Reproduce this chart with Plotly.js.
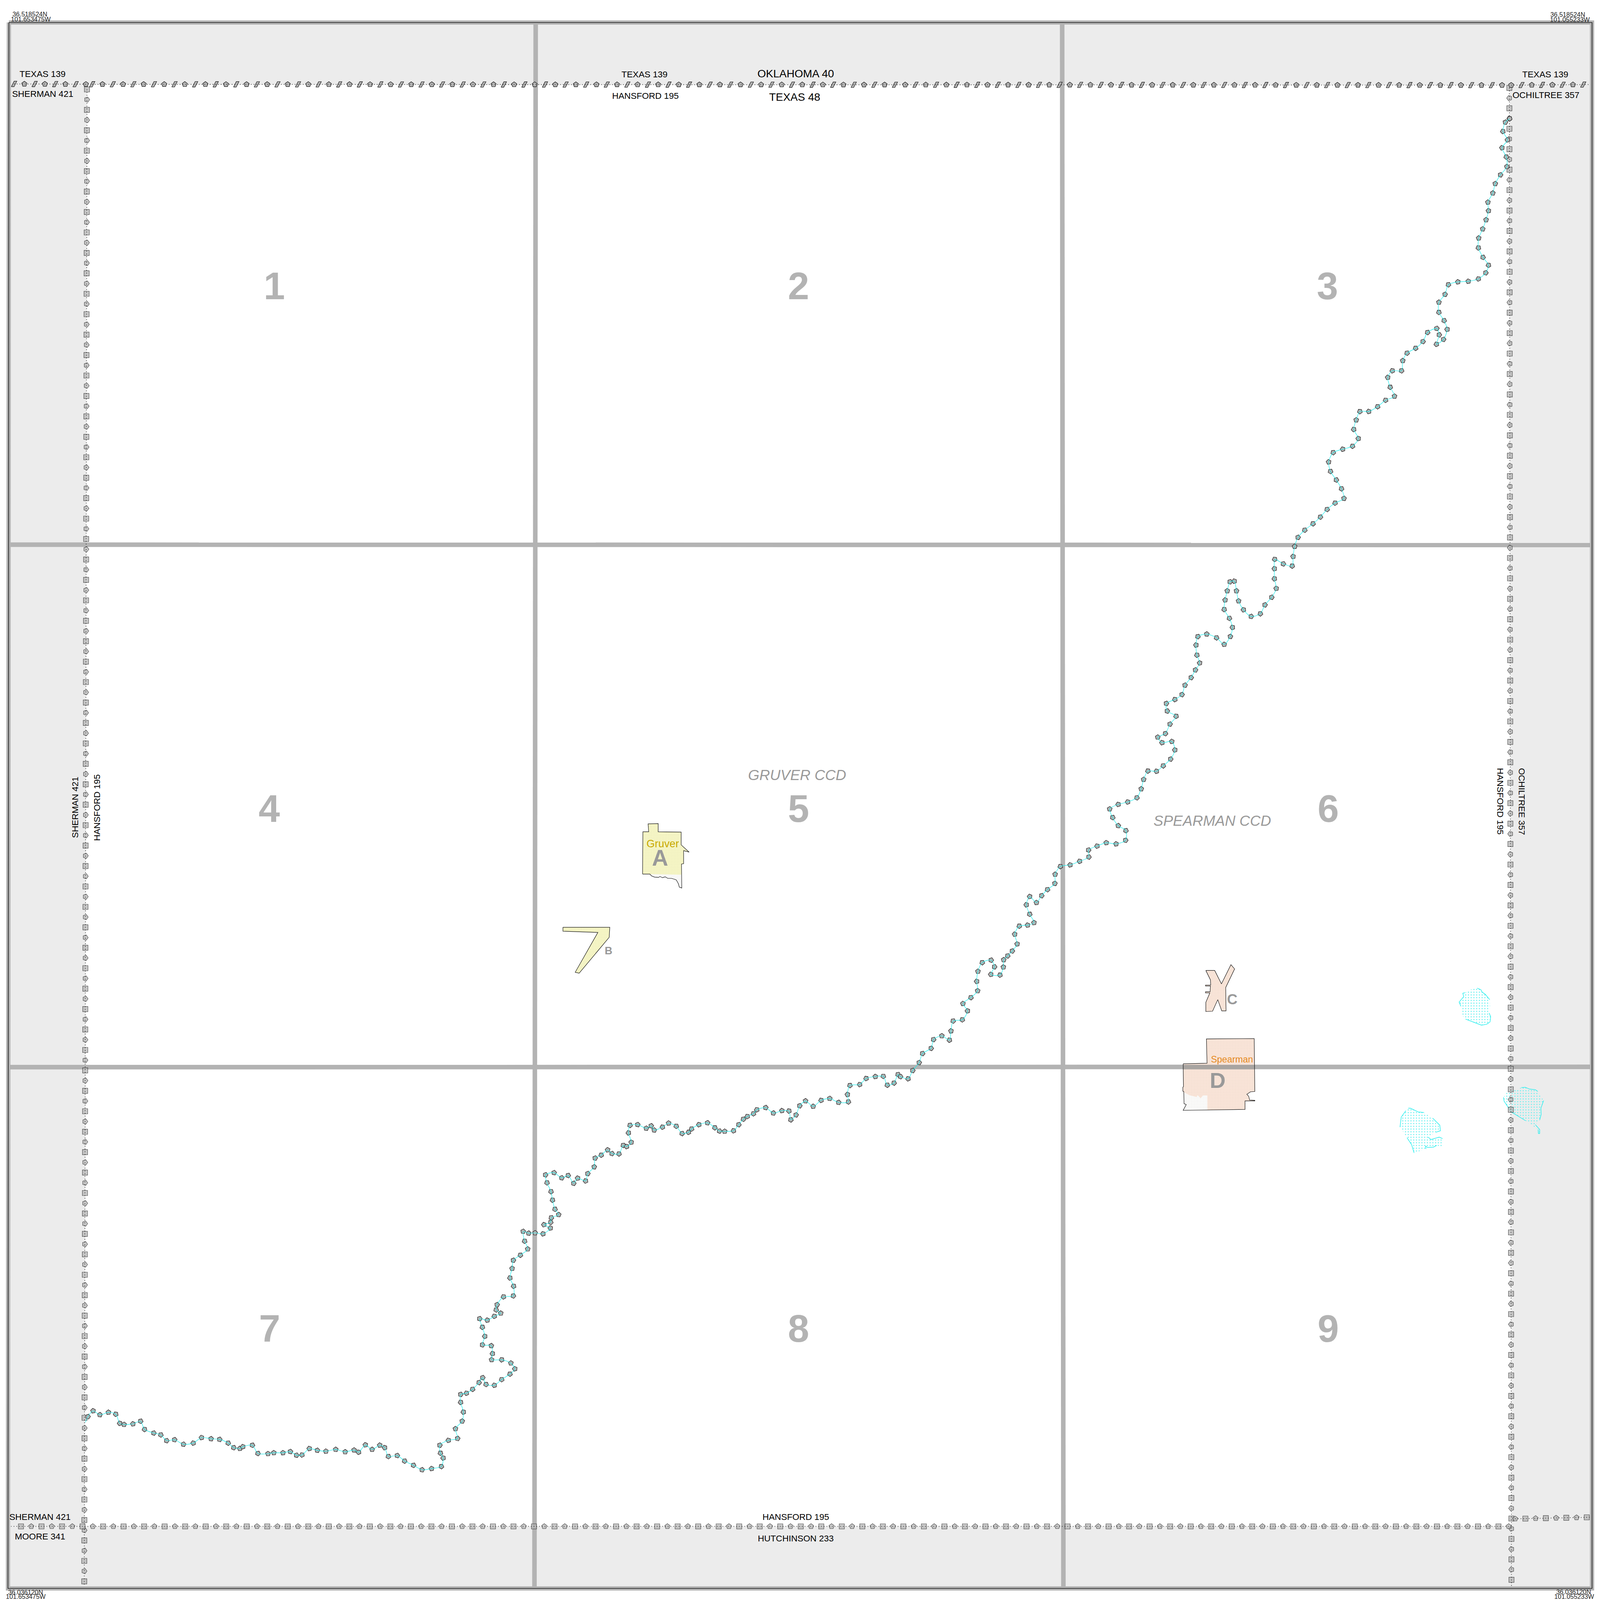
<!DOCTYPE html>
<html><head><meta charset="utf-8">
<script src="https://cdn.plot.ly/plotly-3.0.1.min.js"></script>
<style>html,body{margin:0;padding:0;background:#fff;overflow:hidden}</style></head>
<body><div id="chart"></div>
<script>
// Map units on both axes. River symbol centres.
const riverPoints = [[279,4677],[287,4658],[304,4639],[326,4652],[354,4644],[378,4650],[391,4680],[405,4684],[434,4682],[459,4673],[472,4700],[502,4712],[525,4718],[544,4737],[570,4734],[599,4749],[631,4745],[658,4727],[689,4731],[717,4733],[745,4745],[763,4760],[783,4763],[793,4757],[824,4752],[842,4779],[875,4780],[894,4777],[924,4777],[948,4773],[968,4785],[986,4784],[1010,4763],[1036,4769],[1064,4772],[1096,4766],[1127,4774],[1156,4768],[1171,4775],[1193,4751],[1215,4766],[1240,4752],[1256,4760],[1268,4789],[1297,4786],[1321,4804],[1350,4818],[1378,4833],[1409,4829],[1441,4822],[1447,4794],[1438,4778],[1436,4752],[1464,4736],[1494,4730],[1487,4698],[1509,4673],[1513,4643],[1504,4611],[1504,4585],[1523,4581],[1543,4568],[1564,4546],[1576,4530],[1587,4552],[1614,4555],[1638,4536],[1665,4518],[1681,4501],[1668,4482],[1638,4471],[1605,4471],[1608,4451],[1604,4425],[1575,4422],[1583,4394],[1575,4364],[1566,4336],[1591,4341],[1614,4328],[1635,4318],[1620,4307],[1623,4290],[1644,4264],[1676,4261],[1677,4229],[1665,4202],[1672,4171],[1676,4144],[1699,4127],[1723,4107],
[1713,4081],[1708,4049],[1726,4055],[1747,4054],[1773,4057],[1797,4038],[1776,4027],[1798,4019],[1800,4004],[1824,3994],[1812,3976],[1804,3946],[1799,3918],[1786,3889],[1781,3863],[1809,3856],[1834,3873],[1855,3865],[1873,3891],[1886,3874],[1912,3883],[1919,3859],[1940,3837],[1943,3808],[1963,3798],[1984,3781],[1998,3793],[2021,3794],[2035,3766],[2046,3770],[2061,3756],[2052,3725],[2057,3700],[2082,3698],[2110,3710],[2126,3702],[2136,3716],[2163,3706],[2183,3693],[2208,3703],[2227,3727],[2248,3723],[2258,3712],[2282,3698],[2310,3692],[2334,3708],[2349,3719],[2366,3720],[2395,3718],[2412,3698],[2427,3680],[2440,3671],[2460,3662],[2471,3649],[2500,3642],[2525,3660],[2553,3652],[2576,3653],[2582,3682],[2599,3666],[2611,3636],[2630,3620],[2655,3638],[2681,3618],[2709,3612],[2738,3625],[2770,3623],[2767,3599],[2775,3569],[2807,3566],[2828,3546],[2858,3540],[2884,3539],[2897,3568],[2919,3561],[2932,3533],[2940,3540],[2965,3547],
[2980,3520],[3001,3494],[3012,3464],[3040,3447],[3048,3418],[3075,3406],[3100,3420],[3105,3390],[3112,3357],[3142,3353],[3159,3324],[3144,3300],[3170,3280],[3192,3258],[3189,3227],[3193,3194],[3207,3165],[3236,3157],[3247,3179],[3235,3204],[3265,3206],[3276,3180],[3277,3156],[3290,3143],[3305,3127],[3321,3104],[3313,3072],[3328,3045],[3355,3042],[3376,3034],[3362,3006],[3351,2975],[3362,2948],[3384,2968],[3401,2945],[3420,2925],[3444,2905],[3445,2875],[3462,2849],[3494,2844],[3525,2832],[3555,2818],[3554,2795],[3582,2782],[3612,2771],[3644,2775],[3675,2763],[3676,2731],[3651,2715],[3633,2688],[3623,2660],[3651,2645],[3682,2637],[3712,2623],[3726,2594],[3734,2563],[3748,2535],[3776,2536],[3798,2518],[3822,2496],[3836,2466],[3826,2438],[3794,2442],[3780,2424],[3805,2412],[3820,2381],[3840,2355],[3811,2338],[3808,2313],[3836,2300],
[3859,2284],[3869,2253],[3889,2228],[3903,2203],[3917,2180],[3908,2154],[3905,2121],[3911,2093],[3940,2085],[3972,2097],[3997,2119],[4017,2093],[4024,2063],[4014,2033],[3997,2004],[4000,1973],[4007,1943],[4016,1913],[4030,1911],[4037,1943],[4044,1976],[4060,2005],[4085,2027],[4115,2018],[4130,1989],[4152,1964],[4167,1935],[4161,1903],[4161,1870],[4162,1839],[4190,1854],[4219,1861],[4222,1830],[4227,1797],[4238,1767],[4260,1743],[4287,1722],[4311,1700],[4333,1675],[4359,1654],[4388,1639],[4380,1607],[4363,1578],[4344,1550],[4338,1519],[4353,1488],[4384,1477],[4416,1467],[4435,1442],[4420,1412],[4428,1381],[4440,1353],[4469,1353],[4498,1337],[4524,1316],[4553,1303],
[4539,1273],[4531,1241],[4546,1219],[4576,1219],[4580,1186],[4594,1161],[4622,1145],[4646,1123],[4661,1093],[4691,1080],[4699,1101],[4690,1132],[4713,1116],[4725,1083],[4715,1054],[4698,1027],[4698,994],[4718,968],[4729,936],[4760,927],[4794,925],[4827,917],[4851,897],[4860,872],[4842,846],[4827,815],[4828,783],[4841,753],[4852,723],[4860,693],[4858,665],[4874,635],[4882,604],[4899,575],[4920,548],[4918,516],[4904,486],[4922,460],[4907,432],[4915,402],[4929,390]];

// Frame, county outline and grid lines
const framePath = [[29,74],[5198,74],[5198,5223],[26,5223],[29,74]];
const countyPath = [[284,279],[4928,280],[4935,5019],[277,5019]];
const gridLines = [[[1749,74],[1745,5223]],[[3468,74],[3472,5223]],[[27,1791],[5198,1792]],[[27,3509],[5198,3508]]];

// Boundary lines: vertices
const stateLineA = [[46,276],[281,277]];
const stateLineB = [[301,277],[4904,280]];
const stateLineC = [[4934,280],[5190,278]];
const leftLine = [[284,294],[275,5217]];
const rightLine = [[4928,289],[4935,5217]];
const bottomLine = [[4926,5019],[36,5019]];
const bottomRightLine = [[4947,4994],[5190,4989]];

// Places
const gruverOutline = [[2098,2874],[2099,2735],[2118,2735],[2116,2709],[2149,2708],[2149,2735],[2224,2736],[2224,2778],[2250,2802],[2232,2797],[2232,2840],[2225,2841],[2226,2920],[2218,2917],[2215,2906],[2208,2893],[2198,2890],[2192,2888],[2180,2888],[2172,2883],[2163,2886],[2155,2882],[2150,2885],[2137,2884],[2127,2880],[2122,2874],[2098,2874]];
const gruverLand = [[2098,2874],[2099,2735],[2118,2735],[2116,2709],[2149,2708],[2149,2735],[2224,2736],[2224,2778],[2250,2802],[2232,2797],[2232,2840],[2225,2841],[2225,2876],[2122,2874],[2098,2874]];
const placeB = [[1838,3049],[1991,3049],[1989,3082],[1891,3200],[1878,3197],[1952,3066],[1838,3062],[1838,3049]];
const placeC = [[3937,3191],[3966,3191],[3988,3235],[4019,3172],[4031,3186],[4002,3247],[4003,3324],[3989,3324],[3976,3287],[3959,3325],[3937,3326],[3937,3296],[3950,3265],[3936,3265],[3936,3261],[3951,3261],[3952,3242],[3936,3242],[3936,3239],[3953,3239],[3952,3222],[3937,3191]];
const spearmanOutline = [[3863,3498],[3941,3496],[3939,3416],[4095,3415],[4097,3589],[4083,3590],[4071,3598],[4077,3605],[4080,3617],[4097,3618],[4097,3620],[4065,3620],[4065,3648],[3863,3651],[3873,3632],[3866,3629],[3865,3589],[3862,3588],[3862,3575],[3864,3573],[3863,3498]];
const spearmanGap = [[3866,3592],[3883,3601],[3907,3607],[3910,3601],[3920,3611],[3928,3602],[3942,3602],[3942,3650],[3863,3651],[3873,3632],[3866,3629],[3866,3592]];
const spearmanBand = [[3863,3508.5],[4096,3508.5]];

// Water bodies: hatched area, then the broken outline (null = gap)
const waterAreas = [
 [[4823,3249],[4835,3254],[4839,3262],[4850,3270],[4864,3287],[4865,3309],[4862,3331],[4867,3343],[4865,3360],[4854,3368],[4837,3371],[4820,3365],[4785,3351],[4776,3341],[4770,3309],[4764,3295],[4779,3277],[4776,3266],[4783,3264],[4802,3254]],
 [[4598,3644],[4605,3644],[4630,3656],[4649,3658],[4678,3677],[4701,3700],[4703,3718],[4688,3723],[4663,3739],[4672,3747],[4699,3739],[4710,3744],[4712,3774],[4691,3766],[4680,3772],[4661,3773],[4654,3768],[4656,3778],[4617,3791],[4609,3764],[4594,3741],[4571,3706],[4575,3673],[4590,3652]],
 [[4967,3576],[4980,3575],[4994,3581],[5013,3583],[5021,3589],[5040,3619],[5031,3644],[5032,3664],[5027,3683],[5013,3698],[5027,3714],[5027,3727],[5023,3727],[5022,3714],[4981,3685],[4934,3656],[4911,3621],[4909,3608],[4921,3590]]
];
const waterEdges = [
 [[4783,3264],[4776,3266],[4779,3277],[4764,3295],[4770,3309],null,[4785,3351],[4820,3365],[4837,3371],[4854,3368],[4865,3360],[4867,3343],[4862,3331],null,[4823,3249],[4835,3254],[4839,3262],[4850,3270],[4864,3287]],
 [[4598,3644],[4605,3644],[4630,3656],[4649,3658],null,[4678,3677],[4701,3700],[4703,3718],[4688,3723],null,[4663,3739],[4672,3747],[4699,3739],[4710,3744],null,[4691,3766],[4680,3772],[4661,3773],[4654,3768],[4656,3778],null,[4617,3791],[4609,3764],[4594,3741],null,[4571,3706],[4575,3673],[4590,3652]],
 [[4967,3576],[4980,3575],[4994,3581],[5013,3583],[5021,3589],null,[5040,3619],[5031,3644],[5032,3664],[5027,3683],null,[5013,3698],[5027,3714],[5027,3727],[5023,3727],[5022,3714],null,[4981,3685],[4934,3656],[4911,3621],[4909,3608]]
];

// Text
const gridNumbers = ['1','2','3','4','5','6','7','8','9'];
const gridNumberPos = [[896,940],[2608,940],[4334,940],[880,2659],[2608,2659],[4337,2659],[881,4368],[2608,4368],[4337,4368]];
const labels = [
 ['36.518524N',97,46,21,0,'#222'],['101.653475W',101,63,21,0,'#222'],
 ['36.518524N',5119,47,21,0,'#222'],['101.055233W',5126,64,21,0,'#222'],
 ['36.036120N',84,5235,21,0,'#222'],['101.653475W',84,5250,21,0,'#222'],
 ['36.036120N',5138,5234,21,0,'#222'],['101.055233W',5140,5250,21,0,'#222'],
 ['TEXAS 139',139,244,29,0,'#000'],['SHERMAN 421',140,309,29,0,'#000'],
 ['TEXAS 139',2105,245,29,0,'#000'],['HANSFORD 195',2108,315,29,0,'#000'],
 ['OKLAHOMA 40',2598,242,36,0,'#000'],['TEXAS 48',2595,319,36,0,'#000'],
 ['TEXAS 139',5046,245,29,0,'#000'],['OCHILTREE 357',5047,313,29,0,'#000'],
 ['SHERMAN 421',245,2655,29,-90,'#000'],['HANSFORD 195',316,2655,29,-90,'#000'],
 ['OCHILTREE 357',4968,2635,29,90,'#000'],['HANSFORD 195',4898,2635,29,90,'#000'],
 ['SHERMAN 421',131,4988,29,0,'#000'],['MOORE 341',131,5052,29,0,'#000'],
 ['HANSFORD 195',2598,4988,29,0,'#000'],['HUTCHINSON 233',2598,5059,29,0,'#000'],
 ['Gruver',2164,2774,35,0,'#c9aa00'],['Spearman',4022,3483,30,0,'#e58a1f'],
 ['<i>GRUVER CCD</i>',2602,2548,48,0,'#999'],['<i>SPEARMAN CCD</i>',3958,2699,48,0,'#999'],
 ['<b>A</b>',2155,2820,74,0,'#999'],['<b>B</b>',1987,3125,35,0,'#999'],
 ['<b>C</b>',4023,3286,48,0,'#999'],['<b>D</b>',3975,3552,72,0,'#999']
];

// ---- helpers -----------------------------------------------------------
// The window may be smaller than the 5224x5261 map, so the plot fills the
// window and every pixel-based style follows the same scale.
const W = Math.min(window.innerWidth, 5224), H = Math.min(window.innerHeight, 5261);
const k = Math.min(W / 5224, H / 5261);
const xs = p => p.map(q => q ? q[0] : null);
const ys = p => p.map(q => q ? q[1] : null);

// The boundary symbols are a repeating line style (like a dash pattern):
// they are stepped along the two-vertex lines above, not data values.
function stepsAlong(line, step) {
  const [a, b] = line, len = Math.hypot(b[0]-a[0], b[1]-a[1]), out = [];
  for (let d = 0; d <= len + 0.5; d += step) out.push([a[0]+(b[0]-a[0])*d/len, a[1]+(b[1]-a[1])*d/len]);
  return out;
}
const GREY = '#b3b3b3', INK = '#111', FONT = '"Liberation Sans", Arial, sans-serif';
const traces = [];
const poly = (p, fill, extra) => traces.push(Object.assign({type:'scatter', mode:'lines', x:xs(p), y:ys(p), fill:'toself', fillcolor:fill, line:{width:0}, hoverinfo:'skip'}, extra||{}));
const path = (p, color, width, extra) => traces.push({type:'scatter', mode:'lines', x:xs(p), y:ys(p), line:Object.assign({color, width:width*k}, extra||{}), hoverinfo:'skip'});
const hatch = (bg) => ({shape:'.', size:5*k, solidity:0.07, fgcolor:'#8a8a78', bgcolor:bg});

// Background
poly(framePath, '#ececec');
poly(countyPath, '#ffffff');
gridLines.forEach(g => path(g, GREY, 15));

// Places
poly(gruverOutline, '#ffffff', {fillpattern:hatch('#ffffff')});
poly(gruverLand, '#fafac8', {fillpattern:hatch('#fafac8')});
path(gruverOutline, INK, 1.5);
poly(placeB, '#fafac8', {fillpattern:hatch('#fafac8')});
path(placeB, INK, 1.5);
poly(placeC, '#fee8dc', {fillpattern:hatch('#fee8dc')});
path(placeC, INK, 1.5);
poly(spearmanOutline, '#fee8dc', {fillpattern:hatch('#fee8dc')});
poly(spearmanGap, '#ffffff', {fillpattern:hatch('#ffffff')});
path(spearmanBand, '#a8a4a1', 15);
path(spearmanOutline, INK, 1.5);

// Water
waterAreas.forEach(a => poly(a, 'rgba(0,0,0,0)', {fillpattern:{shape:'.', size:9*k, solidity:0.16, fgcolor:'#66f0f0', bgcolor:'rgba(0,0,0,0)'}}));
waterEdges.forEach(e => path(e, '#22eeee', 1.8));

// Boundary lines: symbols with the dotted line on top
const DOTS = {dash:(2*k)+'px,'+(7*k)+'px'};
function symbolLine(line, step, first, second, angle) {
  const pts = stepsAlong(line, step);
  traces.push({type:'scatter', mode:'markers', x:xs(pts), y:ys(pts), hoverinfo:'skip',
    marker:{color:GREY, size:pts.map((_, i) => ((i%2 ? second : first) === 'square' ? 17 : 18)*k),
      symbol:pts.map((_, i) => i%2 ? second : first),
      angle:pts.map((_, i) => (i%2 ? second : first) === 'pentagon' ? angle : 0),
      line:{color:INK, width:1.5*k}}});
  path(line, '#000', 2, DOTS);
}
symbolLine(leftLine, 33.6, 'square', 'pentagon', 90);
symbolLine(rightLine, 33.6, 'square', 'pentagon', -90);
symbolLine(bottomLine, 33.5, 'pentagon', 'square', 0);
symbolLine(bottomRightLine, 33.4, 'pentagon', 'square', 0);

// State line: pentagons and slanted bars
function stateLine(line, step, firstIsBar) {
  const pts = stepsAlong(line, step);
  const bars = pts.filter((_, i) => (i%2 === 0) === firstIsBar);
  const pents = pts.filter((_, i) => (i%2 === 0) !== firstIsBar);
  const barShape = [];
  bars.forEach(c => barShape.push([c[0]-9,c[1]+9],[c[0],c[1]+9],[c[0]+9,c[1]-9],[c[0],c[1]-9],[c[0]-9,c[1]+9],null));
  traces.push({type:'scatter', mode:'lines', x:xs(barShape), y:ys(barShape), fill:'toself', fillcolor:GREY, line:{color:INK, width:1.4*k}, hoverinfo:'skip'});
  traces.push({type:'scatter', mode:'markers', x:xs(pents), y:ys(pents), hoverinfo:'skip', marker:{symbol:'pentagon', size:18*k, color:GREY, line:{color:INK, width:1.5*k}}});
  path(line, '#000', 2, DOTS);
}
stateLine(stateLineA, 33.5, true);
stateLine(stateLineB, 33.6, true);
stateLine(stateLineC, 33.6, false);

// River: symbols turn with the local direction of the line
const riverAngles = riverPoints.map((p, i) => {
  const a = riverPoints[Math.max(i-1, 0)], b = riverPoints[Math.min(i+1, riverPoints.length-1)];
  return Math.atan2(b[1]-a[1], b[0]-a[0]) * 180 / Math.PI;
});
traces.push({type:'scatter', mode:'markers', x:xs(riverPoints.slice(1)), y:ys(riverPoints.slice(1)), hoverinfo:'skip',
  marker:{symbol:'pentagon', size:17*k, color:GREY, angle:riverAngles.slice(1), line:{color:INK, width:1.4*k}}});
path(riverPoints, '#19eded', 1.5, {shape:'spline', smoothing:0.8});

// Frame on top
path(framePath, GREY, 14);
path(framePath, '#000', 1.8);

const annotations = [];
const addText = (text, x, y, size, angle, color) => annotations.push({text, x, y, xref:'x', yref:'y', showarrow:false, xanchor:'center', yanchor:'middle', textangle:angle, font:{family:FONT, size:size*k, color}, borderpad:0, borderwidth:0});
labels.forEach(l => addText(l[0], l[1], l[2], l[3], l[4], l[5]));
gridNumbers.forEach((n, i) => addText('<b>'+n+'</b>', gridNumberPos[i][0], gridNumberPos[i][1], 126, 0, GREY));

Plotly.newPlot('chart', traces, {
  width:W, height:H, margin:{l:0,r:0,t:0,b:0,pad:0},
  paper_bgcolor:'#fff', plot_bgcolor:'#fff', showlegend:false, hovermode:false,
  xaxis:{range:[0,5224], visible:false, fixedrange:true},
  yaxis:{range:[5261,0], visible:false, fixedrange:true},
  annotations
}, {displayModeBar:false, staticPlot:true});
</script></body></html>
